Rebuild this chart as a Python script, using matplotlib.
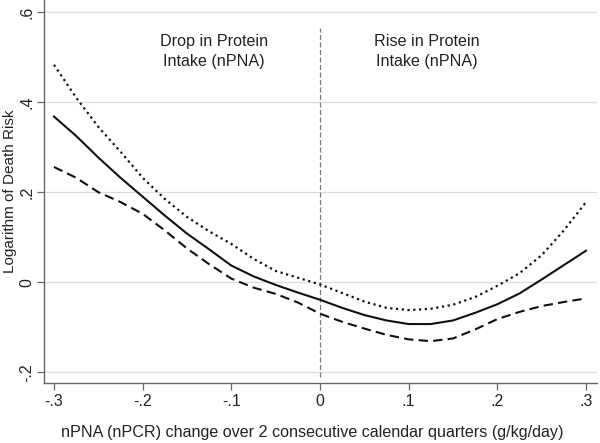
import numpy as np
import matplotlib
matplotlib.use('Agg')
import matplotlib.pyplot as plt

plt.rcParams['font.family'] = ['Liberation Sans', 'DejaVu Sans']

# Change in nPNA (g/kg/day)
x_change = [-0.3, -0.275, -0.25, -0.225, -0.2, -0.175, -0.15, -0.125, -0.1, -0.075, -0.05, -0.025,
            0.0, 0.025, 0.05, 0.075, 0.1, 0.125, 0.15, 0.175, 0.2, 0.225, 0.25, 0.275, 0.3]

# Log death risk estimate and bounds
log_risk = [0.368, 0.325, 0.277, 0.232, 0.19, 0.148, 0.108, 0.073, 0.037, 0.013, -0.006, -0.023,
            -0.039, -0.057, -0.073, -0.085, -0.093, -0.093, -0.085, -0.068, -0.049, -0.025, 0.006, 0.038, 0.07]
upper = [0.483, 0.41, 0.345, 0.29, 0.232, 0.185, 0.145, 0.113, 0.085, 0.052, 0.025, 0.01,
         -0.005, -0.024, -0.043, -0.057, -0.062, -0.059, -0.05, -0.033, -0.008, 0.02, 0.06, 0.115, 0.178]
lower = [0.256, 0.232, 0.2, 0.178, 0.152, 0.115, 0.075, 0.04, 0.008, -0.012, -0.026, -0.045,
         -0.07, -0.088, -0.103, -0.117, -0.127, -0.131, -0.125, -0.105, -0.082, -0.066, -0.053, -0.044, -0.036]

x_ticks = [-0.3, -0.2, -0.1, 0, 0.1, 0.2, 0.3]
x_labels = ['-.3', '-.2', '-.1', '0', '.1', '.2', '.3']
y_ticks = [-0.2, 0, 0.2, 0.4, 0.6]
y_labels = ['-.2', '0', '.2', '.4', '.6']
vline_y = [-0.21, 0.565]

fig = plt.figure(figsize=(6, 4.43), dpi=100)
ax = fig.add_axes([0.0733, 0.1354, 0.9217, 0.8646])

for yv in y_ticks:
    ax.axhline(yv, color='#dcdcdc', lw=0.9, zorder=0)

ax.plot([0, 0], vline_y, color='#777777', lw=0.9, ls=(0, (4, 2)), zorder=1)

ax.plot(x_change, upper, color='#111111', lw=1.6, ls=(0, (1, 1.6)))
ax.plot(x_change, log_risk, color='#111111', lw=1.5)
ax.plot(x_change, lower, color='#111111', lw=1.5, ls=(0, (4.5, 2.5)))

ax.text(-0.12, 0.512, 'Drop in Protein\nIntake (nPNA)', ha='center', va='center',
        fontsize=11.6, color='#222222', linespacing=1.4)
ax.text(0.12, 0.512, 'Rise in Protein\nIntake (nPNA)', ha='center', va='center',
        fontsize=11.6, color='#222222', linespacing=1.4)

ax.set_xlim(-0.3113, 0.3124)
ax.set_ylim(-0.224, 0.627)
ax.set_xticks(x_ticks)
ax.set_xticklabels(x_labels)
ax.set_yticks(y_ticks)
ax.set_yticklabels(y_labels, rotation=90, va='center')
ax.tick_params(axis='both', direction='out', length=5, width=0.9, color='#666666',
               labelsize=11.5, labelcolor='#222222', pad=3)
ax.tick_params(axis='y', pad=2)

for side in ['top', 'right']:
    ax.spines[side].set_visible(False)
for side in ['left', 'bottom']:
    ax.spines[side].set_color('#666666')
    ax.spines[side].set_linewidth(1.0)

ax.set_xlabel('nPNA (nPCR) change over 2 consecutive calendar quarters (g/kg/day)',
              fontsize=11.6, color='#222222', va='center')
ax.xaxis.set_label_coords(0.485, -0.128)
ax.set_ylabel('Logarithm of Death Risk', fontsize=11, color='#222222', va='center')
ax.yaxis.set_label_coords(-0.062, 0.5)

fig.savefig('out.png', dpi=100)
